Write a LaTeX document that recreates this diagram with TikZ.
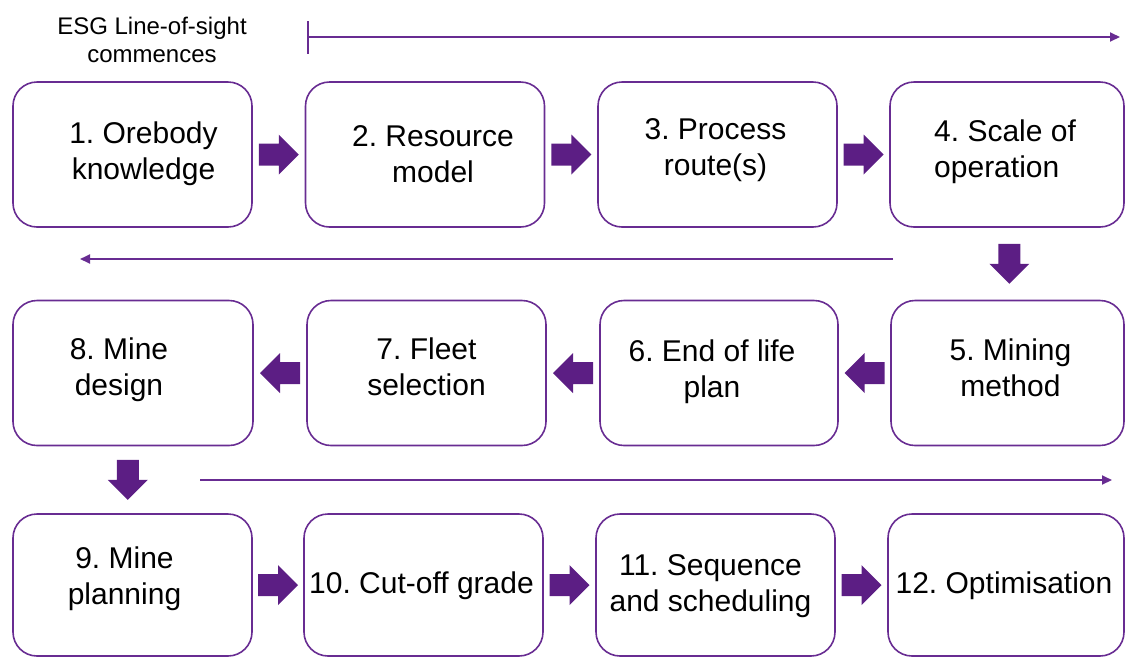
\documentclass[tikz,border=0pt]{standalone}
\usepackage{fontspec}
\setmainfont{Liberation Sans}
\usetikzlibrary{arrows.meta,calc}
\definecolor{lineviolet}{RGB}{104,44,146}
\definecolor{arrowviolet}{RGB}{92,30,132}
\frenchspacing
\begin{document}
\begin{tikzpicture}[x=1pt,y=-1pt,
  stagebox/.style={draw=lineviolet, line width=1.6pt, rounded corners=24pt,
    inner sep=0pt, minimum width=239pt, minimum height=145pt},
  stagetext/.style={font=\fontsize{30}{36}\selectfont, align=center, inner sep=0pt},
  flowline/.style={draw=lineviolet, line width=1.8pt},
  blockarrow/.pic={\fill[arrowviolet] (-20,-11) -- (0,-11) -- (0,-20) -- (20,0)
    -- (0,20) -- (0,11) -- (-20,11) -- cycle;}
]
\useasboundingbox (0,0) rectangle (1126,657);

% heading
\node[font=\fontsize{24}{28}\selectfont, align=center, inner sep=0pt] (esg) at (152,40)
  {ESG Line-of-sight\\commences};

% row 1
\node[stagebox] (b1) at (132.5,154.5) {};
\node[stagebox] (b2) at (425,154.5) {};
\node[stagebox] (b3) at (717.5,154.5) {};
\node[stagebox, minimum width=234pt] (b4) at (1007,154.5) {};
% row 2
\node[stagebox, minimum width=240pt] (b8) at (133,373) {};
\node[stagebox] (b7) at (426.5,373) {};
\node[stagebox, minimum width=238pt] (b6) at (719,373) {};
\node[stagebox, minimum width=233pt] (b5) at (1007.5,373) {};
% row 3
\node[stagebox, minimum height=142pt] (b9) at (132.5,585) {};
\node[stagebox, minimum height=142pt] (b10) at (423.5,585) {};
\node[stagebox, minimum height=142pt] (b11) at (715.5,585) {};
\node[stagebox, minimum height=142pt, minimum width=236pt] (b12) at (1006,585) {};

% stage labels
\node[stagetext] (t1) at ($(b1.center)+(11,-1)$) {1. Orebody\\knowledge};
\node[stagetext] (t2) at ($(b2.center)+(8,0)$) {2. Resource\\model};
\node[stagetext] (t3) at ($(b3.center)+(-2,-4)$) {3. Process\\route(s)};
\node[stagetext, align=left, anchor=west] (t4) at (934,151.5) {4. Scale of\\operation};
\node[stagetext] (t5) at ($(b5.center)+(3,-5)$) {5. Mining\\method};
\node[stagetext] (t6) at ($(b6.center)+(-7,-1)$) {6. End of life\\plan};
\node[stagetext] (t7) at ($(b7.center)+(0,-6)$) {7. Fleet\\selection};
\node[stagetext] (t8) at ($(b8.center)+(-14,-3)$) {8. Mine\\design};
\node[stagetext] (t9) at ($(b9.center)+(-8,-6)$) {9. Mine\\planning};
\node[stagetext] (t10) at ($(b10.center)+(-2,1)$) {10. Cut-off grade};
\node[stagetext] (t11) at ($(b11.center)+(-5,1)$) {11. Sequence\\and scheduling};
\node[stagetext] (t12) at ($(b12.center)+(-2,1)$) {12. Optimisation};

% block arrows between stages
\pic at ($(b1.east)!0.5!(b2.west)$) {blockarrow};
\pic at ($(b2.east)!0.5!(b3.west)$) {blockarrow};
\pic at ($(b3.east)!0.5!(b4.west)$) {blockarrow};
\pic[rotate=-90] at ($(b4.south)!0.5!(b5.north)+(2,0)$) {blockarrow};
\pic[rotate=180] at ($(b5.west)!0.5!(b6.east)$) {blockarrow};
\pic[rotate=180] at ($(b6.west)!0.5!(b7.east)$) {blockarrow};
\pic[rotate=180] at ($(b7.west)!0.5!(b8.east)$) {blockarrow};
\pic[rotate=-90] at ($(b8.south)!0.5!(b9.north)+(-5,0)$) {blockarrow};
\pic at ($(b9.east)!0.5!(b10.west)$) {blockarrow};
\pic at ($(b10.east)!0.5!(b11.west)$) {blockarrow};
\pic at ($(b11.east)!0.5!(b12.west)$) {blockarrow};

% line-of-sight arrows
\coordinate (los1s) at (307,37);
\coordinate (los1e) at (1120,37);
\coordinate (los2s) at (893,259);
\coordinate (los2e) at (80,259);
\coordinate (los3s) at (200,480);
\coordinate (los3e) at (1112,480);
\draw[flowline, {Bar[width=33pt]}-{Triangle[length=10pt,width=9pt]}] (los1s) -- (los1e);
\draw[flowline, -{Triangle[length=10pt,width=9pt]}] (los2s) -- (los2e);
\draw[flowline, -{Triangle[length=10pt,width=9pt]}] (los3s) -- (los3e);
\end{tikzpicture}
\end{document}
